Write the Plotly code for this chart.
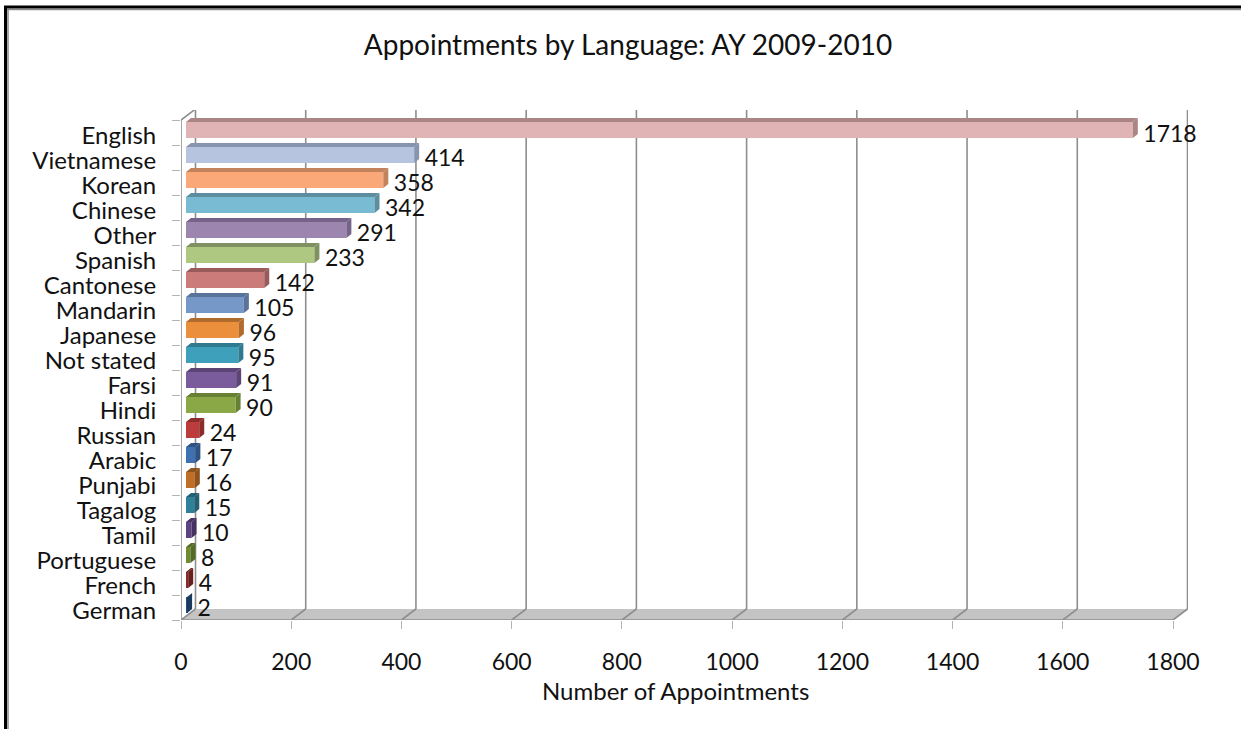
import plotly.graph_objects as go

languages = ["English", "Vietnamese", "Korean", "Chinese", "Other", "Spanish", "Cantonese",
             "Mandarin", "Japanese", "Not stated", "Farsi", "Hindi", "Russian", "Arabic",
             "Punjabi", "Tagalog", "Tamil", "Portuguese", "French", "German"]
appointments = [1718, 414, 358, 342, 291, 233, 142, 105, 96, 95, 91, 90, 24, 17, 16, 15, 10, 8, 4, 2]
front_colors = ["#E0B4B4", "#B6C4DF", "#FAA877", "#78BBD2", "#9C85AF", "#AFC881", "#CC7B7B",
                "#7698C8", "#EC8F3D", "#3FA0BC", "#7A5B9C", "#8AA845", "#BB3C3A", "#3F70AF",
                "#BF6F28", "#2E8198", "#5E4282", "#6F8C33", "#8B2A28", "#254C7D"]
top_colors = ["#AB8585", "#8894AE", "#C2825C", "#5B8F9F", "#76638A", "#7F9160", "#985A5A",
              "#5A7399", "#B06C2E", "#2F7A8F", "#5C4576", "#688034", "#8C2D2B", "#2F5483",
              "#8F531E", "#226172", "#463162", "#536926", "#68201E", "#1C395E"]
x_ticks = list(range(0, 2000, 200))

W, H = 1241, 729
L, R, T, B = 181, 1188, 110, 620
FRONT_W = 992            # pixels from 0 to 1800 on the front plane
UX = 1800 / FRONT_W      # data units per pixel, x
UY = 1 / 25              # data units per pixel, y
X_MAX = (R - L) * UX
Y_BOTTOM = 19.5
Y_TOP = Y_BOTTOM - (B - T) * UY
DX, DY = 14.5 * UX, 11 * UY          # wall depth
BX, BY = 5 * UX, 4 * UY              # bar depth
BAR_START = 5 * UX
BAR_H = 16 * UY
BAR_SHIFT = -2.5 * UY
FONT = "Lato"
GRID = "#8E8E8E"
TICK = "#B4B4B4"
TEXT = "#111111"

fig = go.Figure()


def line(x0, y0, x1, y1, color=GRID, width=1.6):
    fig.add_shape(type="line", xref="x", yref="y", x0=x0, y0=y0, x1=x1, y1=y1,
                  line=dict(color=color, width=width), layer="below")


# floor
fig.add_shape(type="path", xref="x", yref="y", layer="below", fillcolor="#C4C4C4", line_width=0,
              path=f"M 0 {Y_BOTTOM} L {DX} {Y_BOTTOM-DY} L {1800+DX} {Y_BOTTOM-DY} L 1800 {Y_BOTTOM} Z")
# walls and grid
for t in x_ticks:
    line(t, Y_BOTTOM, t + DX, Y_BOTTOM - DY)
    line(t + DX, Y_BOTTOM - DY, t + DX, Y_TOP)
line(0, Y_BOTTOM, 0, -0.5)
line(0, -0.5, DX, -0.5 - DY)
line(0, Y_BOTTOM, 1800, Y_BOTTOM)

# front faces
ys = list(range(len(languages)))
fig.add_trace(go.Bar(y=[k + BAR_SHIFT for k in ys], x=appointments, base=BAR_START, orientation="h",
                     width=BAR_H, marker=dict(color=front_colors, line_width=0),
                     hoverinfo="skip", showlegend=False))

# top and side faces
for k, v in enumerate(appointments):
    x0 = BAR_START
    x1 = BAR_START + v
    yt = k + BAR_SHIFT - BAR_H / 2
    yb = k + BAR_SHIFT + BAR_H / 2
    fig.add_trace(go.Scatter(x=[x0, x0 + BX, x1 + BX, x1, x0], y=[yt, yt - BY, yt - BY, yt, yt],
                             mode="lines", fill="toself", fillcolor=top_colors[k], line_width=0,
                             hoverinfo="skip", showlegend=False))
    fig.add_trace(go.Scatter(x=[x1, x1 + BX, x1 + BX, x1, x1], y=[yt, yt - BY, yb - BY, yb, yt],
                             mode="lines", fill="toself", fillcolor=top_colors[k], line_width=0,
                             hoverinfo="skip", showlegend=False))

# value labels
label_y = [k + 0.12 for k in ys]
label_y[0] += 0.04
fig.add_trace(go.Scatter(x=[BAR_START + v + 5.5 * UX + BX for v in appointments], y=label_y,
                         text=[str(v) for v in appointments], mode="text", textposition="middle right",
                         textfont=dict(family=FONT, size=23, color=TEXT), cliponaxis=False,
                         hoverinfo="skip", showlegend=False))

fig.update_layout(
    width=W, height=H, autosize=False,
    margin=dict(l=L, r=W - R, t=T, b=H - B),
    paper_bgcolor="white", plot_bgcolor="white",
    font=dict(family=FONT, color=TEXT),
    title=dict(text="Appointments by Language: AY 2009-2010", x=628 / W, xanchor="center",
               y=1 - 45 / H, yanchor="middle", font=dict(family=FONT, size=28, color=TEXT)),
    xaxis=dict(range=[0, X_MAX], tickvals=x_ticks, ticks="outside", ticklen=8, tickcolor=TICK, tickwidth=1,
               showgrid=False, zeroline=False, showline=False, tickfont=dict(size=23),
               ticklabelstandoff=13),
    yaxis=dict(range=[Y_BOTTOM, Y_TOP], tickvals=[k + 0.12 for k in ys], ticktext=languages,
               ticks="outside", ticklen=19, tickcolor="rgba(0,0,0,0)", showgrid=False, zeroline=False,
               showline=False, tickfont=dict(size=24),
               minor=dict(tickvals=[k - 0.5 for k in ys] + [Y_BOTTOM], ticks="outside", ticklen=8,
                          tickcolor=TICK, tickwidth=1, showgrid=False)),
)


def px(p):
    return (p - L) / (R - L)


def py(p):
    return (B - p) / (B - T)


# axis title, centred on the front plane of the axis
fig.add_annotation(text="Number of Appointments", xref="x", yref="paper", x=898, y=py(690),
                   xanchor="center", yanchor="middle", showarrow=False,
                   font=dict(family=FONT, size=24, color=TEXT))

# outer frame
for color, width, off in (("#8A8A8A", 1.5, 2.5), ("black", 3, 0)):
    fig.add_shape(type="line", xref="paper", yref="paper", x0=px(5.5 + off), x1=px(5.5 + off),
                  y0=py(7 + off), y1=py(729), line=dict(color=color, width=width))
    fig.add_shape(type="line", xref="paper", yref="paper", x0=px(4 + off), x1=px(1241),
                  y0=py(7 + off), y1=py(7 + off), line=dict(color=color, width=width))

fig.write_html("out.html", config={"displayModeBar": False},
               post_script="document.body.style.margin='0';document.body.style.overflow='hidden';")
